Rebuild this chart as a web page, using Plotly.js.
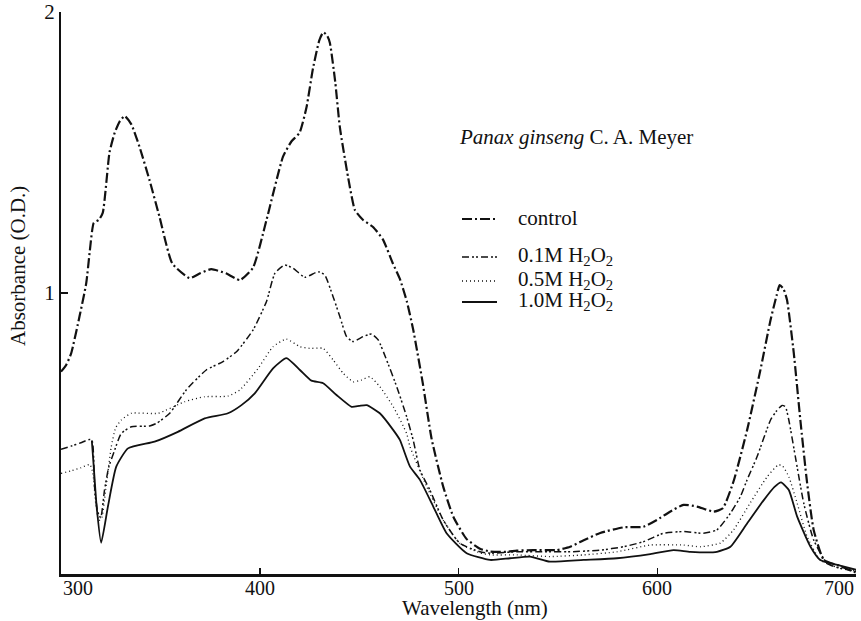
<!DOCTYPE html>
<html>
<head>
<meta charset="utf-8">
<script src="https://cdn.plot.ly/plotly-3.0.1.min.js"></script>
<style>html,body{margin:0;padding:0;background:#fff;}#chart{width:861px;height:621px;}</style>
</head>
<body>
<div id="chart"></div>
<script>
// ---- data (wavelength nm, absorbance O.D.) ----
const seriesNames = ["control", "0.1M H<sub>2</sub>O<sub>2</sub>", "0.5M H<sub>2</sub>O<sub>2</sub>", "1.0M H<sub>2</sub>O<sub>2</sub>"];

const controlX = [300, 302.6, 305.1, 309.3, 312.7, 314.5, 316.5, 319, 321, 324.4, 327, 329.5, 332, 335.4, 339.5, 344.6, 349.6, 356, 364.7, 370, 375.6, 383, 390, 396.6, 403.4, 411.7, 416, 420, 423.5, 426.8, 430, 432, 434, 435.3, 438, 440.3, 444.5, 447.9, 452, 457, 462, 467, 470.5, 474, 477.2, 482, 486.5, 492.3, 497.4, 504, 510.8, 516, 524, 529.3, 537.5, 546, 549.5, 556.2, 563, 571.3, 583, 593, 599.8, 606, 613.2, 620, 628.4, 633, 638.4, 645.2, 651.9, 657, 660, 661.6, 663.5, 665.3, 668.7, 672, 675.4, 678.7, 683.8, 690.5, 698.9, 700];
const controlY = [0.72, 0.744, 0.785, 0.916, 1.035, 1.15, 1.25, 1.26, 1.285, 1.50, 1.57, 1.61, 1.63, 1.60, 1.52, 1.40, 1.27, 1.105, 1.053, 1.07, 1.085, 1.07, 1.046, 1.09, 1.26, 1.485, 1.54, 1.57, 1.66, 1.80, 1.90, 1.928, 1.915, 1.89, 1.75, 1.59, 1.41, 1.295, 1.26, 1.235, 1.19, 1.105, 1.05, 0.97, 0.87, 0.68, 0.48, 0.311, 0.204, 0.125, 0.09, 0.08, 0.079, 0.083, 0.085, 0.085, 0.085, 0.097, 0.12, 0.146, 0.166, 0.168, 0.192, 0.22, 0.246, 0.24, 0.222, 0.234, 0.33, 0.512, 0.726, 0.904, 0.99, 1.028, 1.015, 0.975, 0.786, 0.548, 0.324, 0.157, 0.05, 0.032, 0.008, 0.005];

const m01X = [300, 305, 310, 314.5, 315.8, 317, 318.5, 320, 321.9, 324, 327, 330.3, 335.4, 344.6, 348, 354.7, 363, 373.1, 381.5, 388.3, 396.6, 403.4, 407.6, 412.6, 416.8, 422.7, 429.4, 432.7, 436.9, 440.3, 443.7, 447, 452, 456.3, 459.6, 463.8, 468.9, 473.9, 477.2, 480.6, 485.6, 492.3, 500.7, 510.8, 516, 529.3, 542.7, 556.2, 571.3, 583, 593.1, 603.2, 613.2, 623.3, 630, 636.8, 641.8, 645.2, 650.2, 657, 660, 662.8, 664.5, 666.2, 669.5, 673.7, 678.7, 685.5, 692, 700];
const m01Y = [0.444, 0.455, 0.467, 0.479, 0.47, 0.30, 0.22, 0.20, 0.299, 0.38, 0.441, 0.50, 0.524, 0.527, 0.536, 0.572, 0.655, 0.726, 0.756, 0.791, 0.868, 0.97, 1.07, 1.10, 1.088, 1.056, 1.076, 1.064, 0.987, 0.916, 0.845, 0.827, 0.845, 0.854, 0.833, 0.762, 0.667, 0.56, 0.477, 0.37, 0.299, 0.192, 0.109, 0.079, 0.074, 0.079, 0.079, 0.079, 0.085, 0.097, 0.115, 0.145, 0.151, 0.145, 0.157, 0.216, 0.275, 0.335, 0.417, 0.548, 0.58, 0.60, 0.595, 0.548, 0.417, 0.252, 0.121, 0.038, 0.02, 0.01];

const m05X = [300, 305, 310, 314.5, 316, 317.5, 319, 320.5, 322.5, 325.3, 327.5, 330.3, 335.4, 348.8, 362.2, 372.3, 384, 390, 399, 406.7, 413.4, 420.2, 425.2, 431.9, 436.9, 442, 447, 451, 455.4, 460.4, 467.2, 473.9, 475.6, 484, 492.3, 500.7, 510.8, 516, 529.3, 546, 562.9, 579.7, 596.5, 613.2, 621.7, 631.7, 638.4, 646.7, 655.3, 660.8, 663, 666.2, 670.4, 675.4, 682, 690, 700];
const m05Y = [0.358, 0.367, 0.378, 0.39, 0.36, 0.25, 0.19, 0.2, 0.3, 0.453, 0.52, 0.548, 0.572, 0.572, 0.613, 0.631, 0.633, 0.655, 0.73, 0.809, 0.836, 0.809, 0.803, 0.803, 0.762, 0.714, 0.684, 0.69, 0.702, 0.667, 0.595, 0.50, 0.453, 0.311, 0.192, 0.109, 0.075, 0.068, 0.068, 0.062, 0.068, 0.079, 0.103, 0.103, 0.097, 0.11, 0.157, 0.252, 0.346, 0.388, 0.385, 0.346, 0.252, 0.133, 0.05, 0.025, 0.01];

const m10X = [315.5, 316.5, 318, 320.2, 323.6, 327.8, 333.7, 347.1, 358.8, 372.3, 384, 390.8, 397.5, 406.7, 413.4, 420.2, 426, 431.9, 438.6, 446.2, 450, 453.8, 460.4, 467.2, 470.5, 475.6, 480.6, 487.3, 494, 504.1, 515.9, 526, 536, 546, 562.9, 579.7, 596.5, 608.2, 616.6, 630, 636.8, 645.2, 653.6, 659, 662.3, 666.2, 670.4, 677.1, 682, 692, 700];
const m10Y = [0.475, 0.38, 0.235, 0.111, 0.24, 0.382, 0.447, 0.471, 0.506, 0.554, 0.572, 0.601, 0.643, 0.732, 0.768, 0.726, 0.688, 0.679, 0.637, 0.595, 0.598, 0.601, 0.572, 0.512, 0.477, 0.382, 0.335, 0.24, 0.145, 0.074, 0.05, 0.056, 0.062, 0.044, 0.05, 0.056, 0.071, 0.085, 0.079, 0.079, 0.097, 0.18, 0.263, 0.31, 0.326, 0.299, 0.204, 0.097, 0.05, 0.03, 0.015];

const xTickVals = [300, 400, 500, 600, 700];
const xTickText = ["300", "400", "500", "600", "700"];
const yTickVals = [1, 2];
const yTickText = ["1", "2"];

// ---- styles ----
const dashes = ["10px,3px,2px,3px", "7px,3px,2px,2px,2px,3px", "1px,3px", "solid"];
const widths = [2.2, 1.5, 1.3, 1.8];
const FONT = "'Liberation Serif', 'Times New Roman', Times, serif";
const INK = "#111";

const xs = [controlX, m01X, m05X, m10X];
const ys = [controlY, m01Y, m05Y, m10Y];

const traces = xs.map((x, i) => ({
  type: "scatter", mode: "lines", x: x, y: ys[i], name: seriesNames[i],
  line: {color: INK, width: widths[i], dash: dashes[i], shape: "spline", smoothing: 0.5},
  hoverinfo: "skip"
}));

// pixel helpers for placing the hand-set legend and labels
const ml = 61, mr = 5, mt = 12, mb = 47, W = 861, H = 621;
const pw = W - ml - mr, ph = H - mt - mb;
const px2x = p => (p - ml) / pw;
const py2y = p => 1 - (p - mt) / ph;

const legendY = [219, 257, 281, 302];
const shapes = legendY.map((py, i) => ({
  type: "line", xref: "paper", yref: "paper",
  x0: px2x(462), x1: px2x(497), y0: py2y(py), y1: py2y(py),
  line: {color: INK, width: widths[i], dash: dashes[i]}
}));
const annotations = legendY.map((py, i) => ({
  xref: "paper", yref: "paper", x: px2x(516), y: py2y(py - 1),
  xanchor: "left", yanchor: "middle", showarrow: false,
  text: seriesNames[i], font: {family: FONT, size: 21, color: INK}
}));
annotations.push({
  xref: "paper", yref: "paper", x: px2x(457), y: py2y(137),
  xanchor: "left", yanchor: "middle", showarrow: false,
  text: "<i>Panax ginseng</i> C. A. Meyer", font: {family: FONT, size: 21, color: INK}
});
// x tick labels (end labels kept inside the frame as in the original)
xTickVals.forEach((v, i) => {
  annotations.push({
    xref: "x", yref: "paper", x: v, y: 0, yshift: -1,
    xanchor: i === 0 ? "left" : (i === xTickVals.length - 1 ? "right" : "center"),
    yanchor: "top", showarrow: false,
    text: xTickText[i], font: {family: FONT, size: 20, color: INK}
  });
});
// axis titles
annotations.push({
  xref: "paper", yref: "paper", x: px2x(475), y: 0, yshift: -34,
  xanchor: "center", yanchor: "middle", showarrow: false,
  text: "Wavelength (nm)", font: {family: FONT, size: 21, color: INK}
});
annotations.push({
  xref: "paper", yref: "paper", x: px2x(18), y: py2y(266),
  xanchor: "center", yanchor: "middle", showarrow: false, textangle: -90,
  text: "Absorbance (O.D.)", font: {family: FONT, size: 21, color: INK}
});

const layout = {
  width: W, height: H,
  margin: {l: ml, r: mr, t: mt, b: mb},
  paper_bgcolor: "#fff", plot_bgcolor: "#fff",
  showlegend: false,
  font: {family: FONT, size: 20, color: INK},
  xaxis: {
    range: [300, 700], tickvals: xTickVals, ticktext: xTickText, showticklabels: false,
    ticks: "inside", ticklen: 6, tickwidth: 1.5, tickcolor: INK,
    showline: true, linewidth: 2.5, linecolor: INK,
    showgrid: false, zeroline: false, fixedrange: true
  },
  yaxis: {
    range: [0, 2], tickvals: yTickVals, ticktext: yTickText,
    ticks: "inside", ticklen: 7, tickwidth: 1.5, tickcolor: INK,
    showline: true, linewidth: 2, linecolor: INK,
    showgrid: false, zeroline: false, fixedrange: true,
    tickfont: {family: FONT, size: 21, color: INK}
  },
  shapes: shapes,
  annotations: annotations
};

Plotly.newPlot("chart", traces, layout, {staticPlot: true, displayModeBar: false});
</script>
</body>
</html>
